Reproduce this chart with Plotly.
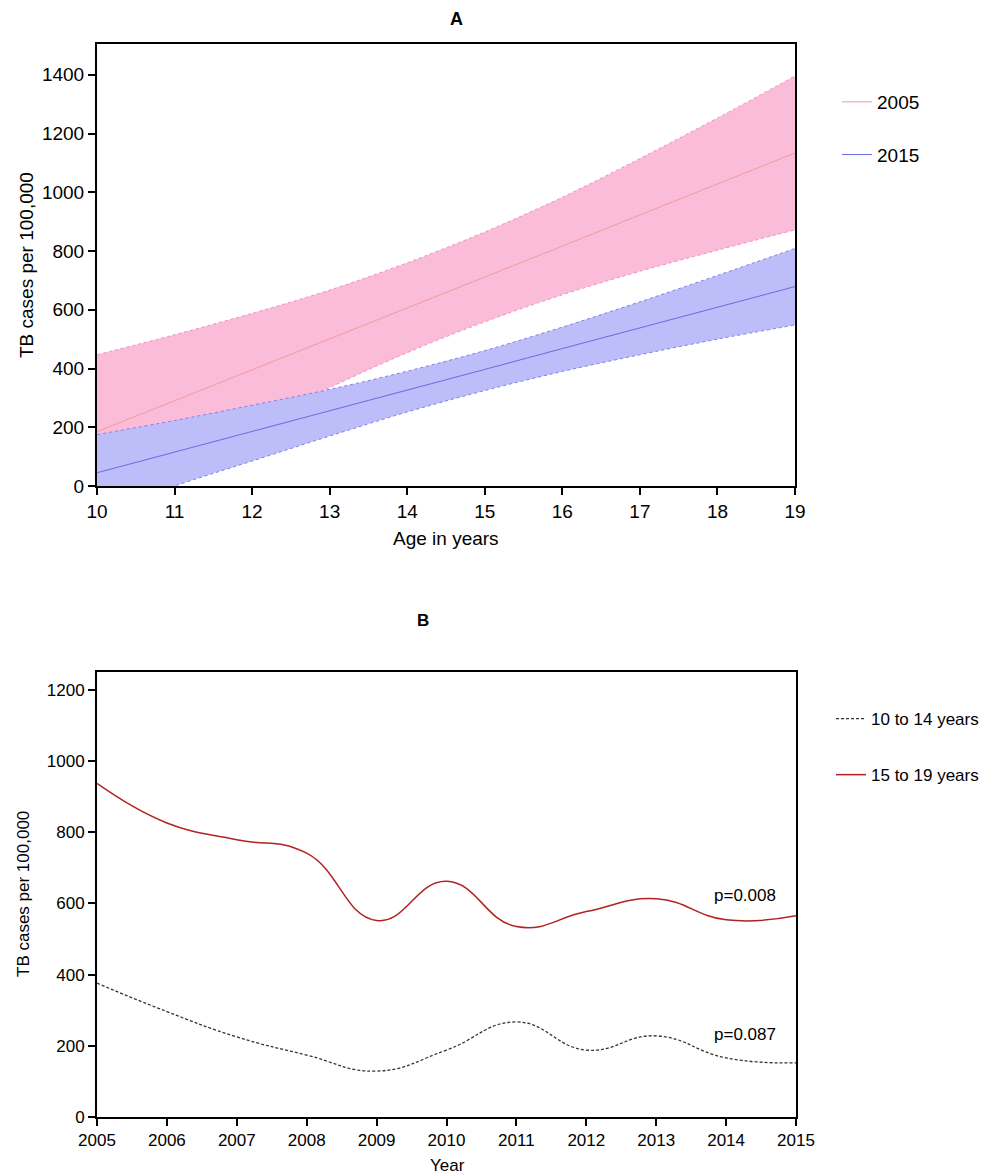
import plotly.graph_objects as go

# ---------------- Panel A data ----------------
ages = [10, 11, 12, 13, 14, 15, 16, 17, 18, 19]
line_2005 = [185, 290, 396, 501, 607, 712, 817, 923, 1028, 1134]
upper_2005 = [447, 515, 588, 667, 760, 865, 983, 1115, 1253, 1396]
lower_2005 = [-77, 65, 204, 335, 454, 559, 651, 731, 803, 872]
line_2015 = [45, 115, 186, 256, 327, 397, 468, 538, 609, 679]
upper_2015 = [175, 223, 275, 329, 391, 461, 541, 627, 717, 809]
lower_2015 = [-95, 0, 85, 170, 252, 325, 390, 447, 500, 548]
yticks_a = [0, 200, 400, 600, 800, 1000, 1200, 1400]

# ---------------- Panel B data ----------------
years = [2005, 2006, 2007, 2008, 2009, 2010, 2011, 2012, 2013, 2014, 2015]
rate_10_14 = [376, 296, 225, 174, 129, 188, 267, 188, 228, 166, 152]
rate_15_19 = [937, 826, 779, 741, 552, 662, 535, 577, 613, 554, 565]
yticks_b = [0, 200, 400, 600, 800, 1000, 1200]
pvals = ["p=0.008", "p=0.087"]
pval_y = [621, 233]

FONT = "Liberation Sans, Arial, sans-serif"
PINK_FILL = "#FBBCD9"
PINK_EDGE = "#EE8FBF"
PINK_LINE = "#F49A9A"
BLUE_FILL = "#BDBDF9"
BLUE_EDGE = "#7F7FE6"
BLUE_LINE = "#6A6AE0"
RED = "#B22222"

OFF = 8  # page body margin
W, H = 992 - OFF, 1175 - OFF


def px2x(p):
    return (p - OFF) / W


def py2y(p):
    return 1 - (p - OFF) / H


fig = go.Figure()

# Pink band (2005)
fig.add_trace(go.Scatter(x=ages, y=lower_2005, mode="lines", xaxis="x", yaxis="y",
                         line=dict(color=PINK_EDGE, width=1, dash="dot", shape="spline"),
                         showlegend=False, hoverinfo="skip"))
fig.add_trace(go.Scatter(x=ages, y=upper_2005, mode="lines", xaxis="x", yaxis="y",
                         fill="tonexty", fillcolor=PINK_FILL,
                         line=dict(color=PINK_EDGE, width=1, dash="dot", shape="spline"),
                         showlegend=False, hoverinfo="skip"))
fig.add_trace(go.Scatter(x=ages, y=line_2005, mode="lines", xaxis="x", yaxis="y",
                         line=dict(color=PINK_LINE, width=1), name="2005",
                         legend="legend", legendgroup="a1"))
# Blue band (2015)
fig.add_trace(go.Scatter(x=ages, y=lower_2015, mode="lines", xaxis="x", yaxis="y",
                         line=dict(color=BLUE_EDGE, width=1, dash="dot", shape="spline"),
                         showlegend=False, hoverinfo="skip"))
fig.add_trace(go.Scatter(x=ages, y=upper_2015, mode="lines", xaxis="x", yaxis="y",
                         fill="tonexty", fillcolor=BLUE_FILL,
                         line=dict(color=BLUE_EDGE, width=1, dash="dot", shape="spline"),
                         showlegend=False, hoverinfo="skip"))
fig.add_trace(go.Scatter(x=ages, y=line_2015, mode="lines", xaxis="x", yaxis="y",
                         line=dict(color=BLUE_LINE, width=1), name="2015",
                         legend="legend", legendgroup="a2"))

# Panel B
fig.add_trace(go.Scatter(x=years, y=rate_10_14, mode="lines", xaxis="x2", yaxis="y2",
                         line=dict(color="#333333", width=1.3, dash="3px,2px", shape="spline", smoothing=1.3),
                         name="10 to 14 years", legend="legend2", legendgroup="b1"))
fig.add_trace(go.Scatter(x=years, y=rate_15_19, mode="lines", xaxis="x2", yaxis="y2",
                         line=dict(color=RED, width=1.5, shape="spline", smoothing=1.3),
                         name="15 to 19 years", legend="legend2", legendgroup="b2"))

axis_common = dict(showgrid=False, zeroline=False, showline=True, linewidth=2, linecolor="black",
                   mirror=True, ticks="outside", ticklen=7, tickwidth=2, tickcolor="black",
                   automargin=False)
overlay_common = dict(showgrid=False, zeroline=False, showline=False, ticks="inside", ticklen=7,
                      tickwidth=2, tickcolor="black", showticklabels=False, automargin=False)

domA_x = [px2x(97), px2x(795)]
domA_y = [py2y(486), py2y(44)]
domB_x = [px2x(97), px2x(796)]
domB_y = [py2y(1117), py2y(672)]

fig.update_layout(
    template="none",
    width=W, height=H,
    margin=dict(l=0, r=0, t=0, b=0, autoexpand=False),
    paper_bgcolor="white", plot_bgcolor="white",
    font=dict(family=FONT, color="black"),
    xaxis=dict(domain=domA_x, anchor="y", range=[10, 19], tickvals=ages,
               tickfont=dict(size=19), **axis_common),
    yaxis=dict(domain=domA_y, anchor="x", range=[0, 1505], tickvals=yticks_a,
               tickfont=dict(size=19), **axis_common),
    xaxis3=dict(overlaying="x", anchor="y", side="top", range=[10, 19], tickvals=ages, **overlay_common),
    yaxis3=dict(overlaying="y", anchor="x", side="right", range=[0, 1505], tickvals=yticks_a,
                layer="below traces", **overlay_common),
    xaxis2=dict(domain=domB_x, anchor="y2", range=[2005, 2015], tickvals=years,
                tickfont=dict(size=17), **axis_common),
    yaxis2=dict(domain=domB_y, anchor="x2", range=[0, 1250], tickvals=yticks_b,
                tickfont=dict(size=17), **axis_common),
    xaxis4=dict(overlaying="x2", anchor="y2", side="top", range=[2005, 2015], tickvals=years, **overlay_common),
    yaxis4=dict(overlaying="y2", anchor="x2", side="right", range=[0, 1250], tickvals=yticks_b, **overlay_common),
    legend=dict(x=px2x(837), xanchor="left", y=py2y(83), yanchor="top",
                font=dict(size=19), tracegroupgap=25, bgcolor="rgba(0,0,0,0)"),
    legend2=dict(x=px2x(831), xanchor="left", y=py2y(701), yanchor="top",
                 font=dict(size=17), tracegroupgap=31, bgcolor="rgba(0,0,0,0)"),
    showlegend=True,
)


def note(text, xp, yp, size, bold=False, angle=0):
    return dict(text=f"<b>{text}</b>" if bold else text, x=px2x(xp), y=py2y(yp),
                xref="paper", yref="paper", xanchor="center", yanchor="middle",
                showarrow=False, textangle=angle, font=dict(size=size))


ann = [
    note("A", 456, 19, 18, bold=True),
    note("B", 423, 620, 17, bold=True),
    note("Age in years", 446, 538, 19),
    note("Year", 447, 1165, 17),
    note("TB cases per 100,000", 26, 265, 19, angle=-90),
    note("TB cases per 100,000", 23, 894, 17, angle=-90),
]
for t, yv in zip(pvals, pval_y):
    ann.append(dict(text=t, x=2014.27, y=yv, xref="x2", yref="y2", showarrow=False,
                    xanchor="center", yanchor="middle", font=dict(size=17)))
fig.update_layout(annotations=ann)

fig.write_html("out.html")
